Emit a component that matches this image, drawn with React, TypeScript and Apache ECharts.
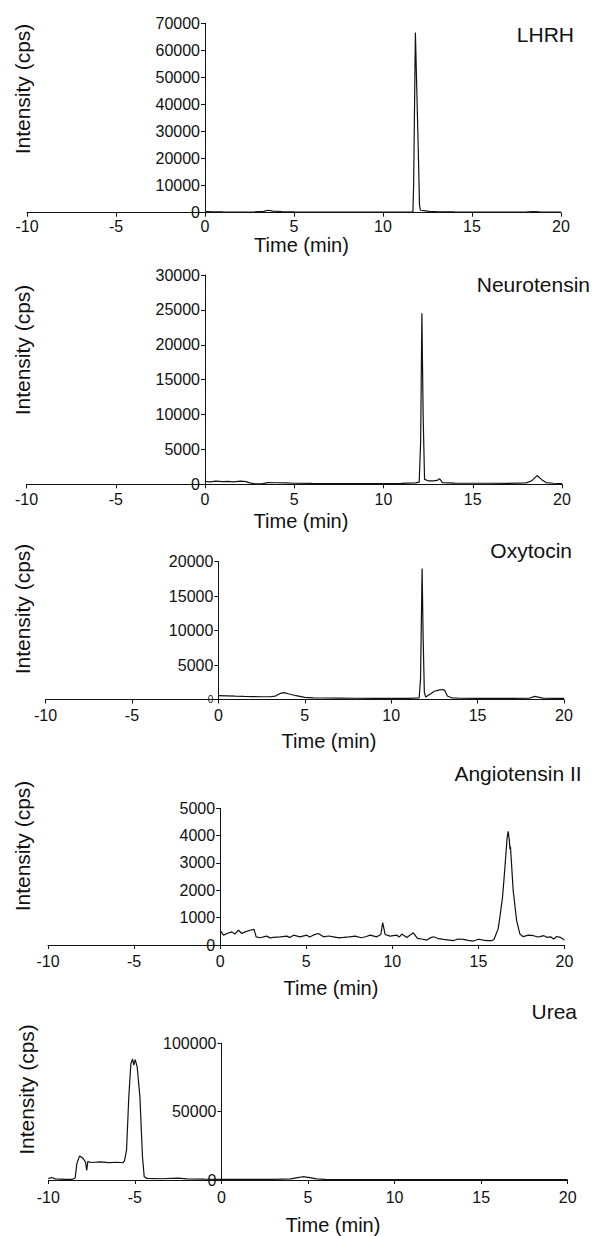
import React, { useEffect, useRef } from "react";
import * as echarts from "echarts";

// ---- data: [time (min), intensity (cps)] ----
const lhrhTrace: number[][] = [
  [0, 400], [0.5, 350], [1, 300], [2, 250], [2.8, 300], [3.3, 500], [3.55, 900], [3.8, 600],
  [4.3, 450], [5, 300], [6, 250], [7, 200], [8, 200], [9, 200], [10, 200], [11, 200],
  [11.6, 250], [11.68, 400], [11.72, 10000], [11.82, 66600], [11.9, 45000], [12.0, 18000],
  [12.05, 3000], [12.1, 900], [12.3, 800], [12.6, 500], [13, 400], [14, 300], [15, 250],
  [16, 200], [17, 200], [18, 250], [18.4, 450], [18.8, 300], [19.5, 200], [20, 200],
];

const neurotensinTrace: number[][] = [
  [0, 400], [0.3, 350], [0.6, 450], [1, 380], [1.3, 420], [1.6, 350], [2, 450], [2.3, 380],
  [2.5, 200], [2.8, 80], [3.2, 60], [3.5, 250], [4, 220], [4.5, 200], [5, 150], [6, 120],
  [7, 100], [8, 100], [9, 110], [10, 100], [11, 120], [11.8, 200], [12.0, 300], [12.08, 6000],
  [12.15, 24500], [12.22, 10000], [12.3, 700], [12.5, 500], [12.8, 500], [13.0, 550],
  [13.15, 800], [13.3, 250], [14, 180], [15, 150], [16, 150], [17, 120], [18, 200],
  [18.3, 500], [18.6, 1250], [18.85, 700], [19.1, 250], [19.5, 150], [20, 100],
];

const oxytocinTrace: number[][] = [
  [0, 550], [0.5, 520], [1, 480], [1.5, 450], [2, 430], [2.5, 400], [3, 400], [3.3, 500],
  [3.6, 900], [3.8, 1000], [4.1, 800], [4.5, 550], [5, 300], [5.5, 250], [6, 220], [7, 200],
  [8, 180], [9, 170], [10, 160], [11, 150], [11.62, 250], [11.7, 3000], [11.79, 19000],
  [11.85, 9000], [11.92, 1000], [12.0, 350], [12.2, 700], [12.5, 1200], [12.8, 1400],
  [13.0, 1450], [13.1, 1300], [13.25, 500], [13.5, 250], [14, 180], [15, 150], [16, 150],
  [17, 150], [18, 180], [18.3, 450], [18.5, 350], [18.8, 200], [19.5, 150], [20, 150],
];

const angiotensinTrace: number[][] = [
  [0, 540], [0.19, 360], [0.39, 420], [0.68, 480], [0.85, 400], [1.06, 540], [1.26, 420],
  [1.45, 480], [1.74, 540], [1.97, 570], [2.09, 300], [2.32, 265], [2.7, 325], [2.9, 260],
  [3.1, 280], [3.5, 300], [3.87, 325], [4.05, 270], [4.26, 360], [4.64, 300], [5.03, 360],
  [5.2, 290], [5.4, 360], [5.7, 420], [6.0, 300], [6.3, 330], [6.58, 300], [6.9, 260],
  [7.16, 277], [7.5, 300], [7.84, 325], [8.2, 265], [8.5, 310], [8.7, 360], [9.1, 300],
  [9.33, 385], [9.44, 820], [9.58, 385], [9.87, 325], [10.26, 360], [10.4, 290], [10.55, 400],
  [10.84, 277], [11.22, 445], [11.46, 240], [11.7, 220], [12.0, 180], [12.2, 260], [12.39, 300],
  [12.7, 230], [12.97, 205], [13.3, 180], [13.55, 157], [13.8, 220], [14.13, 205], [14.4, 170],
  [14.7, 145], [15.0, 210], [15.29, 180], [15.5, 160], [15.77, 157], [15.9, 200], [16.0, 360],
  [16.15, 600], [16.26, 1080], [16.4, 1740], [16.54, 2840], [16.67, 3940], [16.73, 4160],
  [16.8, 3800], [16.83, 3500], [16.86, 3600], [17.02, 1990], [17.22, 890], [17.41, 400],
  [17.6, 305], [17.9, 360], [18.2, 340], [18.4, 300], [18.58, 305], [18.8, 340], [18.97, 280],
  [19.2, 300], [19.36, 220], [19.55, 310], [19.75, 280], [20, 180],
];

const ureaTrace: number[][] = [
  [-10, 1000], [-9.8, 1800], [-9.6, 800], [-9, 500], [-8.6, 500], [-8.45, 1500], [-8.35, 12000],
  [-8.2, 17500], [-8.0, 16000], [-7.85, 13000], [-7.78, 7000], [-7.72, 13500], [-7.5, 12800],
  [-7.0, 13300], [-6.5, 12700], [-6.0, 13000], [-5.7, 12600], [-5.6, 14000], [-5.48, 22000],
  [-5.35, 61000], [-5.23, 85000], [-5.13, 88500], [-5.06, 84000], [-4.98, 88000], [-4.87, 83000],
  [-4.71, 61000], [-4.56, 17000], [-4.46, 2400], [-4.3, 1200], [-3.5, 900], [-2.5, 1300],
  [-2, 800], [-1, 600], [0, 500], [1, 400], [2, 400], [3, 400], [4, 800], [4.4, 1800],
  [4.7, 2400], [5.1, 1800], [5.5, 800], [6, 500], [8, 300], [10, 300], [12, 250], [15, 250],
  [18, 250], [20, 250],
];

const panelNames = ["LHRH", "Neurotensin", "Oxytocin", "Angiotensin II", "Urea"];
const traces = [lhrhTrace, neurotensinTrace, oxytocinTrace, angiotensinTrace, ureaTrace];
const yMax = [70000, 30000, 20000, 5000, 100000];
const yStep = [10000, 5000, 5000, 1000, 50000];
const xMin = -10;
const xMax = 20;
const xStep = 5;
const xTitle = "Time (min)";
const yTitle = "Intensity (cps)";

// ---- layout (pixels) ----
const CHART_W = 601;
const CHART_H = 1236;
const grids = [
  { left: 27, right: 40, top: 23.3, height: 189.4 },
  { left: 26.5, right: 39, top: 275, height: 209.3 },
  { left: 45.5, right: 37, top: 561.7, height: 137.8 },
  { left: 48, right: 36.5, top: 808.3, height: 136.7 },
  { left: 48.3, right: 33.3, top: 1043.3, height: 136.7 },
];
const titlePos = [
  { x: 574, y: 34, align: "right" },
  { x: 590, y: 284.5, align: "right" },
  { x: 572, y: 550, align: "right" },
  { x: 518, y: 773.5, align: "center" },
  { x: 577, y: 1011.5, align: "right" },
];
const yNamePos = [
  { x: 22, y: 89 },
  { x: 22, y: 350 },
  { x: 22, y: 609 },
  { x: 22, y: 846 },
  { x: 26, y: 1089.5 },
];
const xNamePos = [
  { x: 301.5, y: 245 },
  { x: 301, y: 521 },
  { x: 329, y: 741 },
  { x: 331, y: 988 },
  { x: 333, y: 1225 },
];
const xLabelMargin = [6, 7, 8, 8, 9];

const FONT = "'Liberation Sans', Arial, Helvetica, sans-serif";
const INK = "#111";

export default function App() {
  const ref = useRef<HTMLDivElement>(null);
  useEffect(() => {
    if (!ref.current) return;
    const chart = echarts.init(ref.current, null, { renderer: "svg" });
    const graphic: any[] = [];
    panelNames.forEach((n, i) => {
      graphic.push({
        type: "text",
        x: titlePos[i].x,
        y: titlePos[i].y,
        style: {
          text: n,
          font: `21px ${FONT}`,
          fill: INK,
          align: titlePos[i].align,
          verticalAlign: "middle",
        },
      });
      graphic.push({
        type: "text",
        x: yNamePos[i].x,
        y: yNamePos[i].y,
        rotation: Math.PI / 2,
        style: {
          text: yTitle,
          font: `21px ${FONT}`,
          fill: INK,
          align: "center",
          verticalAlign: "middle",
        },
      });
      graphic.push({
        type: "text",
        x: xNamePos[i].x,
        y: xNamePos[i].y,
        style: {
          text: xTitle,
          font: `20px ${FONT}`,
          fill: INK,
          align: "center",
          verticalAlign: "middle",
        },
      });
    });

    // y axis sits at time = 0: shift it right from the grid's left edge
    const yOffsets = grids.map((g) => {
      const w = CHART_W - g.left - g.right;
      return -(w * (0 - xMin)) / (xMax - xMin);
    });

    const option: any = {
      animation: false,
      backgroundColor: "#fff",
      grid: grids.map((g) => ({ ...g, containLabel: false, outerBoundsMode: "none" })),
      xAxis: grids.map((_, i) => ({
        type: "value",
        gridIndex: i,
        min: xMin,
        max: xMax,
        interval: xStep,
        axisLine: { show: true, onZero: false, lineStyle: { color: INK, width: 1 } },
        axisTick: { show: true, length: 4, lineStyle: { color: INK } },
        axisLabel: {
          color: INK,
          fontSize: 16,
          fontFamily: FONT,
          margin: xLabelMargin[i],
        },
        splitLine: { show: false },
      })),
      yAxis: grids.map((_, i) => ({
        type: "value",
        gridIndex: i,
        position: "left",
        offset: yOffsets[i],
        min: 0,
        max: yMax[i],
        interval: yStep[i],
        axisLine: { show: true, onZero: false, lineStyle: { color: INK, width: 1 } },
        axisTick: { show: true, length: 4, lineStyle: { color: INK } },
        axisLabel: {
          color: INK,
          fontSize: 16,
          fontFamily: FONT,
          margin: 5,
          formatter: (v: number) => (i === 2 && v === 0 ? "{s|0}" : String(v)),
          rich: { s: { fontSize: 10, fontFamily: FONT, color: INK } },
        },
        splitLine: { show: false },
      })),
      series: traces.map((t, i) => ({
        type: "line",
        name: panelNames[i],
        xAxisIndex: i,
        yAxisIndex: i,
        data: t,
        showSymbol: false,
        symbol: "none",
        lineStyle: { color: INK, width: 1.2 },
      })),
      graphic,
    };
    chart.setOption(option);
    return () => chart.dispose();
  }, []);
  return (
    <div
      ref={ref}
      style={{ position: "absolute", left: 0, top: 0, width: CHART_W, height: CHART_H, background: "#fff" }}
    />
  );
}
